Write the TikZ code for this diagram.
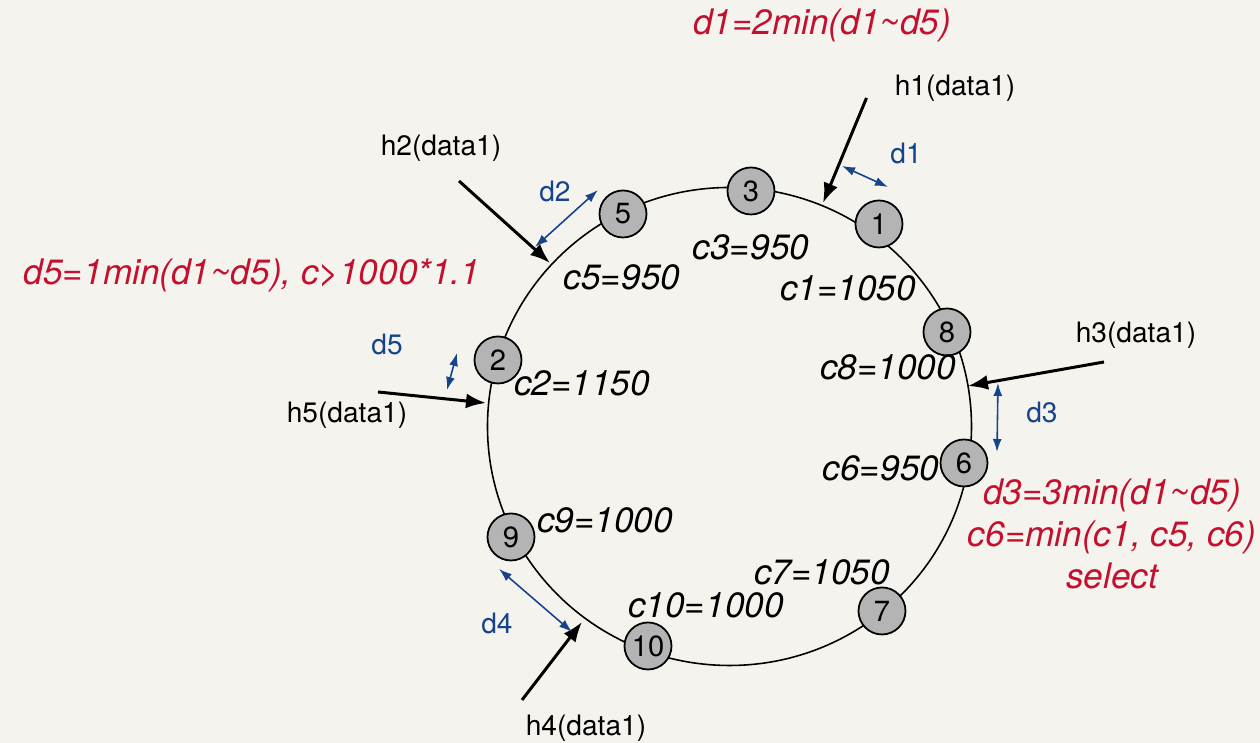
\documentclass[tikz,border=0pt]{standalone}
\usepackage{fontspec}
\setmainfont{TeX Gyre Heros}
\usetikzlibrary{arrows.meta}
\definecolor{paper}{RGB}{245,243,237}
\definecolor{vgray}{RGB}{180,180,180}
\definecolor{dblue}{RGB}{22,68,138}
\definecolor{nred}{RGB}{195,16,46}

\begin{document}
\begin{tikzpicture}[
  vnode/.style={circle,draw,line width=0.5pt,fill=vgray,minimum size=4.7mm,inner sep=0pt,font=\fontsize{8.3}{9}\selectfont},
  cost/.style={font=\fontsize{10}{12}\selectfont\itshape},
  host/.style={font=\fontsize{8}{9}\selectfont},
  hit/.style={line width=0.85pt,-{Latex[length=2mm,width=1.5mm]}},
  dist/.style={dblue,line width=0.45pt,{Latex[length=1.3mm,width=0.9mm]}-{Latex[length=1.3mm,width=0.9mm]}},
  dlab/.style={dblue,font=\fontsize{8}{9}\selectfont},
  note/.style={nred,font=\fontsize{10}{12}\selectfont\itshape,align=center}]

  \useasboundingbox (0,0) rectangle (12.6,7.43);
  \fill[paper] (0,0) rectangle (12.6,7.43);

  % the ring
  \draw[line width=0.45pt] (7.295,3.165) ellipse (2.42 and 2.39);

  % virtual nodes on the ring
  \node[vnode] (n3)  at (7.51,5.52) {3};
  \node[vnode] (n5)  at (6.23,5.29) {5};
  \node[vnode] (n1)  at (8.79,5.19) {1};
  \node[vnode] (n8)  at (9.47,4.11) {8};
  \node[vnode] (n6)  at (9.64,2.80) {6};
  \node[vnode] (n7)  at (8.82,1.32) {7};
  \node[vnode] (n10) at (6.48,0.97) {10};
  \node[vnode] (n9)  at (5.11,2.06) {9};
  \node[vnode] (n2)  at (4.98,3.83) {2};

  % costs
  \node[cost] (c3)  at (7.51,4.96) {c3=950};
  \node[cost] (c5)  at (6.22,4.66) {c5=950};
  \node[cost] (c1)  at (8.48,4.55) {c1=1050};
  \node[cost] (c8)  at (8.88,3.76) {c8=1000};
  \node[cost] (c6)  at (8.81,2.75) {c6=950};
  \node[cost] (c7)  at (8.22,1.71) {c7=1050};
  \node[cost] (c2)  at (5.82,3.60) {c2=1150};
  \node[cost] (c9)  at (6.05,2.23) {c9=1000};
  \node[cost] (c10) at (7.06,1.38) {c10=1000};

  % hashed keys
  \node[host] (h1) at (9.55,6.55) {h1(data1)};
  \node[host] (h2) at (4.41,5.95) {h2(data1)};
  \node[host] (h3) at (11.36,4.08) {h3(data1)};
  \node[host] (h4) at (5.86,0.15) {h4(data1)};
  \node[host] (h5) at (3.47,3.28) {h5(data1)};

  \coordinate (h1s) at (8.665,6.45); \coordinate (h1e) at (8.23,5.40);
  \coordinate (h2s) at (4.59,5.62);  \coordinate (h2e) at (5.50,4.80);
  \coordinate (h3s) at (11.04,3.81); \coordinate (h3e) at (9.68,3.57);
  \coordinate (h4s) at (5.22,0.43);  \coordinate (h4e) at (5.82,1.21);
  \coordinate (h5s) at (3.78,3.51);  \coordinate (h5e) at (4.86,3.40);
  \draw[hit] (h1s) -- (h1e);
  \draw[hit] (h2s) -- (h2e);
  \draw[hit] (h3s) -- (h3e);
  \draw[hit] (h4s) -- (h4e);
  \draw[hit] (h5s) -- (h5e);

  % distances
  \coordinate (d1a) at (8.42,5.77); \coordinate (d1b) at (8.88,5.56);
  \coordinate (d2a) at (5.35,4.96); \coordinate (d2b) at (5.98,5.53);
  \coordinate (d3a) at (9.98,3.60); \coordinate (d3b) at (9.97,2.91);
  \coordinate (d4a) at (4.99,1.74); \coordinate (d4b) at (5.72,1.11);
  \coordinate (d5a) at (4.57,3.90); \coordinate (d5b) at (4.47,3.53);
  \draw[dist] (d1a) -- (d1b);
  \draw[dist] (d2a) -- (d2b);
  \draw[dist] (d3a) -- (d3b);
  \draw[dist] (d4a) -- (d4b);
  \draw[dist] (d5a) -- (d5b);
  \node[dlab] (d1) at (9.06,5.90) {d1};
  \node[dlab] (d2) at (5.55,5.52) {d2};
  \node[dlab] (d3) at (10.42,3.31) {d3};
  \node[dlab] (d4) at (4.97,1.20) {d4};
  \node[dlab] (d5) at (3.87,3.99) {d5};

  % notes
  \node[note] (top)   at (8.22,7.18) {d1=2min(d1\textasciitilde d5)};
  \node[note] (left)  at (2.52,4.68) {d5=1min(d1\textasciitilde d5), c>1000*1.1};
  \node[note] (right) at (11.12,2.09) {d3=3min(d1\textasciitilde d5)\\c6=min(c1, c5, c6)\\select};
\end{tikzpicture}
\end{document}
